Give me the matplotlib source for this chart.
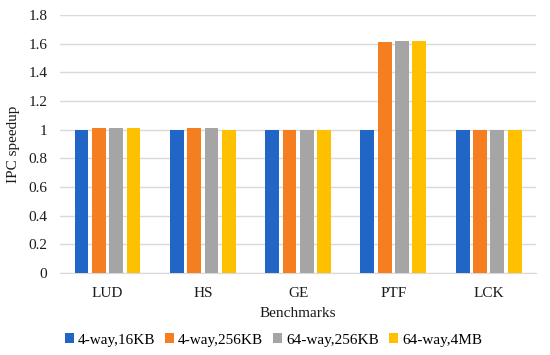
import numpy as np
import matplotlib.pyplot as plt

plt.rcParams['font.family'] = ['Liberation Serif', 'DejaVu Serif']

# Data
benchmarks = ['LUD', 'HS', 'GE', 'PTF', 'LCK']
series = ['4-way,16KB', '4-way,256KB', '64-way,256KB', '64-way,4MB']
way4_16kb = [1.0, 1.0, 1.0, 1.0, 1.0]
way4_256kb = [1.01, 1.01, 1.0, 1.61, 1.0]
way64_256kb = [1.01, 1.01, 1.0, 1.62, 1.0]
way64_4mb = [1.01, 1.0, 1.0, 1.62, 1.0]
colors = ['#2166C6', '#F57F20', '#A5A5A5', '#FFC000']

fig = plt.figure(figsize=(5.5, 3.55), dpi=100)
ax = fig.add_axes([0.109, 0.231, 0.866, 0.727])

x = np.arange(len(benchmarks))
width = 0.145
step = 0.182
for i, (vals, name) in enumerate(zip([way4_16kb, way4_256kb, way64_256kb, way64_4mb], series)):
    ax.bar(x + (i - 1.5) * step, vals, width, color=colors[i], label=name, zorder=3)

ax.set_xlim(-0.5, len(benchmarks) - 0.5)
ax.set_ylim(0, 1.8)
ax.set_yticks(np.arange(0, 1.81, 0.2))
ax.set_yticklabels(['0', '0.2', '0.4', '0.6', '0.8', '1', '1.2', '1.4', '1.6', '1.8'])
ax.set_xticks(x)
ax.set_xticklabels(benchmarks)
ax.tick_params(length=0, labelsize=11, colors='#1a1a1a')
ax.tick_params(axis='x', pad=10)
ax.tick_params(axis='y', pad=9)
ax.grid(axis='y', color='#D9D9D9', lw=1, zorder=0)
for s in ['top', 'right', 'left']:
    ax.spines[s].set_visible(False)
ax.spines['bottom'].set_color('#D9D9D9')

ax.set_xlabel('Benchmarks', fontsize=11, labelpad=5, color='#1a1a1a')
ax.set_ylabel('IPC speedup', fontsize=11, labelpad=6, color='#1a1a1a')

fig.legend(loc='center', bbox_to_anchor=(0.497, 0.042), ncol=4, frameon=False,
           fontsize=11, handlelength=0.6, handleheight=0.6, handletextpad=0.25,
           columnspacing=0.65)

fig.savefig('out.png', dpi=100)
